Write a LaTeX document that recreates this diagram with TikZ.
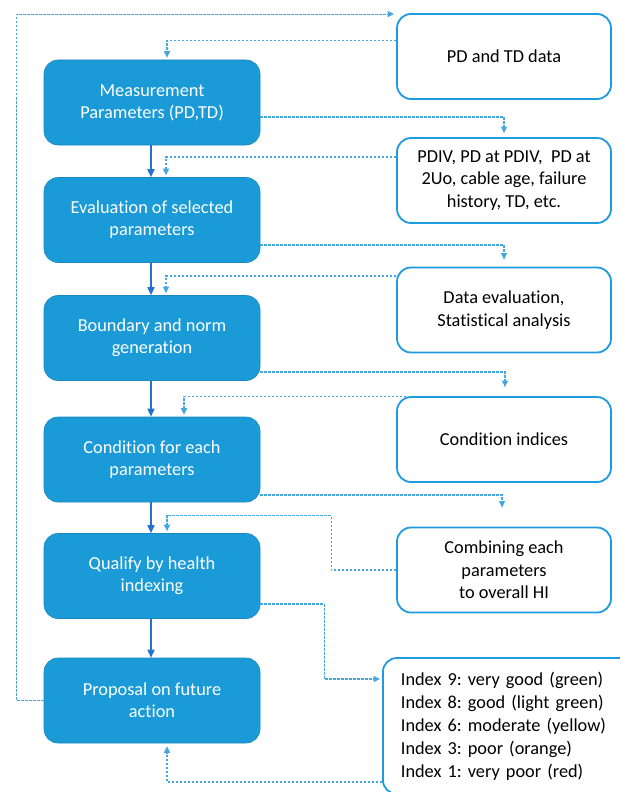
\documentclass[tikz,border=0pt]{standalone}
\usepackage{fontspec}
\setmainfont{Carlito}[Ligatures=CommonOff]
\usepackage{tikz}
\usetikzlibrary{positioning,arrows.meta,calc}
\definecolor{boxblue}{HTML}{1A9BD7}
\definecolor{boxedge}{HTML}{1B86BF}
\definecolor{lineblue}{HTML}{1E9AE0}
\definecolor{dashblue}{HTML}{45A7E0}
\definecolor{flowblue}{HTML}{2372CC}
\frenchspacing

\begin{document}
\begin{tikzpicture}[x=1pt, y=-1pt,
    stage/.style={draw=boxedge, fill=boxblue, line width=0.6pt, rounded corners=14pt, minimum width=216pt, minimum height=85pt, text=white, align=center, font=\fontsize{18.3}{22}\selectfont},
    info/.style={draw=lineblue, fill=white, line width=1.8pt, rounded corners=14pt, minimum width=214pt, minimum height=85pt, align=center, font=\fontsize{18.3}{22.5}\selectfont},
    flow/.style={-{Triangle[width=7pt,length=8pt]}, flowblue, line width=1.6pt},
    feed/.style={-{Triangle[width=6pt,length=6.5pt]}, dashblue, line width=1.1pt, dash pattern=on 2.5pt off 1.5pt}]
  \useasboundingbox (0,0) rectangle (619,792);
  \node[stage] (m1) at (152,102.5) {Measurement\\Parameters (PD,TD)};
  \node[stage] (m2) at (152,220) {Evaluation of selected\\parameters};
  \node[stage] (m3) at (152,338) {Boundary and norm\\generation};
  \node[stage] (m4) at (152,459.5) {Condition for each\\parameters};
  \node[stage] (m5) at (152,576) {Qualify by health\\indexing};
  \node[stage] (m6) at (152,700.5) {Proposal on future\\action};
  \node[info] (r1) at (504,56.5) {PD and TD data};
  \node[info] (r2) at (504,180.5) {PDIV, PD at PDIV,\ \ PD at\\2Uo, cable age, failure\\history, TD, etc.};
  \node[info] (r3) at (504,310) {Data evaluation,\\Statistical analysis};
  \node[info] (r4) at (504,439.5) {Condition indices};
  \node[info] (r5) at (504,570) {Combining each\\parameters\\to overall HI};
  \node[info, anchor=west, minimum height=136pt, text width=214pt, inner xsep=18pt, align=left, font=\fontsize{18.3}{23}\selectfont] (r6) at (382,726)
    {Index 9: very good (green)\\Index 8: good (light green)\\Index 6: moderate (yellow)\\Index 3: poor (orange)\\Index 1: very poor (red)};
  \foreach \a/\b in {m1/m2, m2/m3, m3/m4, m4/m5, m5/m6}
    \draw[flow] ([xshift=-1]\a.south) -- ([xshift=-1]\b.north);
  \draw[feed, shorten >=2pt] ([yshift=16]r1.west) -| ([xshift=15]m1.north);
  \draw[feed, shorten >=4pt] ([yshift=-14.5]m1.east) -| (r2.north);
  \draw[feed, shorten >=2pt] ([yshift=23.5]r2.west) -| ([xshift=14]m2.north);
  \draw[feed, shorten >=7pt] ([yshift=-25]m2.east) -| (r3.north);
  \draw[feed, shorten >=2pt] ([yshift=34]r3.west) -| ([xshift=14]m3.north);
  \draw[feed, shorten >=9pt] ([yshift=-34]m3.east) -| ([xshift=1]r4.north);
  \draw[feed, shorten >=2pt] ([xshift=10]r4.north west) -| ([xshift=32]m4.north);
  \draw[feed, shorten >=19pt] ([yshift=-35.5]m4.east) -| ([xshift=-2]r5.north);
  \draw[feed, shorten >=2pt] (r5.west) -- ++(-65,0) |- ([xshift=15,yshift=18]m5.north) -- ([xshift=15]m5.north);
  \draw[feed, shorten >=2pt] ([yshift=-28]m5.east) -- ++(64,0) |- ([yshift=47]r6.west);
  \draw[feed, shorten >=3pt] ([yshift=-56]r6.west) -| ([xshift=15]m6.south);
  \draw[feed, shorten >=2pt] (m6.west) -- ++(-27,0) |- ([yshift=-1]r1.north west);
\end{tikzpicture}
\end{document}
